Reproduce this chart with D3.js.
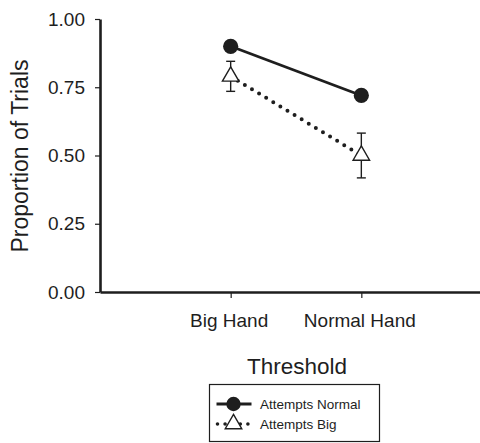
<!DOCTYPE html>
<html>
<head>
<meta charset="utf-8">
<script src="https://cdn.jsdelivr.net/npm/d3@7"></script>
<style>
  body { margin: 0; background: #fff; }
  svg { display: block; font-family: 'Liberation Sans', Arial, sans-serif; }
</style>
</head>
<body>
<div id="chart"></div>
<script>
// data
const categories = ['Big Hand', 'Normal Hand']
const attemptsNormal = [0.90, 0.72]
const attemptsBig = [0.79, 0.50]
const attemptsBigErr = [0.055, 0.082]
const yTicks = [0, 0.25, 0.5, 0.75, 1]
const seriesNames = ['Attempts Normal', 'Attempts Big']

const width = 480
const height = 443
const margins = {top: 19, left: 100, bottom: 151}
const ink = '#1e1e1e'

const svg = d3.select('#chart').append('svg')
  .attr('width', width)
  .attr('height', height)

const y = d3.scaleLinear().domain([0, 1]).range([height - margins.bottom, margins.top])
const x = d3.scalePoint().domain(categories).range([margins.left, 492]).padding(1)

// y-axis
const yAxisG = svg.append('g')
  .attr('transform', 'translate(' + margins.left + ',0)')
  .call(d3.axisLeft(y).tickValues(yTicks).tickFormat(d3.format('.2f')).tickSize(5).tickSizeOuter(0).tickPadding(10))
yAxisG.select('.domain').attr('stroke', ink).attr('stroke-width', 2.6)
yAxisG.selectAll('.tick line').attr('stroke', ink).attr('stroke-width', 1.2)
yAxisG.selectAll('.tick text').attr('fill', ink).style('font-size', '19px')

// x-axis
const xAxisG = svg.append('g')
  .attr('transform', 'translate(0,' + y(0) + ')')
  .call(d3.axisBottom(x).tickSize(6).tickSizeOuter(0))
xAxisG.select('.domain').attr('stroke', ink).attr('stroke-width', 2.6)
xAxisG.selectAll('.tick line').attr('stroke', ink).attr('stroke-width', 1.2)
xAxisG.selectAll('.tick text')
  .attr('fill', ink)
  .attr('y', 35)
  .attr('dy', 0)
  .attr('dx', -2)
  .style('font-size', '19px')

// axis titles
svg.append('text')
  .attr('transform', 'translate(28,' + 156 + ') rotate(-90)')
  .attr('text-anchor', 'middle')
  .attr('fill', ink)
  .style('font-size', '23px')
  .text('Proportion of Trials')

svg.append('text')
  .attr('x', (x(categories[0]) + x(categories[1])) / 2 + 1)
  .attr('y', 374)
  .attr('text-anchor', 'middle')
  .attr('fill', ink)
  .style('font-size', '22.5px')
  .text('Threshold')

// lines
const line = d3.line().x((d, i) => x(categories[i])).y(d => y(d))

const plot = svg.append('g').classed('plot', true)

plot.append('path')
  .datum(attemptsBig)
  .attr('d', line)
  .attr('fill', 'none')
  .attr('stroke', ink)
  .attr('stroke-width', 4)
  .attr('stroke-linecap', 'round')
  .attr('stroke-dasharray', '0 8.3')

plot.append('path')
  .datum(attemptsNormal)
  .attr('d', line)
  .attr('fill', 'none')
  .attr('stroke', ink)
  .attr('stroke-width', 2.8)

// error bars
const capW = 4.5
const eb = plot.selectAll('g.err')
  .data(attemptsBig.map((v, i) => ({cat: categories[i], v: v, e: attemptsBigErr[i]})))
  .enter().append('g').classed('err', true)
  .attr('stroke', ink)
  .attr('stroke-width', 1.4)
eb.append('line')
  .attr('x1', d => x(d.cat)).attr('x2', d => x(d.cat))
  .attr('y1', d => y(d.v + d.e)).attr('y2', d => y(d.v - d.e))
eb.append('line')
  .attr('x1', d => x(d.cat) - capW).attr('x2', d => x(d.cat) + capW)
  .attr('y1', d => y(d.v + d.e)).attr('y2', d => y(d.v + d.e))
eb.append('line')
  .attr('x1', d => x(d.cat) - capW).attr('x2', d => x(d.cat) + capW)
  .attr('y1', d => y(d.v - d.e)).attr('y2', d => y(d.v - d.e))

// markers
const tri = d3.symbol().type(d3.symbolTriangle).size(118)

plot.selectAll('path.tri')
  .data(attemptsBig)
  .enter().append('path')
  .classed('tri', true)
  .attr('d', tri)
  .attr('transform', (d, i) => 'translate(' + x(categories[i]) + ',' + y(d) + ')')
  .attr('fill', '#fff')
  .attr('stroke', ink)
  .attr('stroke-width', 1.4)

plot.selectAll('circle.dot')
  .data(attemptsNormal)
  .enter().append('circle')
  .classed('dot', true)
  .attr('cx', (d, i) => x(categories[i]))
  .attr('cy', d => y(d))
  .attr('r', 7.6)
  .attr('fill', ink)

// legend
const legend = svg.append('g').classed('legend', true)
legend.append('rect')
  .attr('x', 209.5).attr('y', 384.5)
  .attr('width', 170).attr('height', 57)
  .attr('fill', '#fff')
  .attr('stroke', ink)
  .attr('stroke-width', 1.2)

const lx0 = 216.5
const lx1 = 251.5
const lcx = 233.5

legend.append('line')
  .attr('x1', lx0).attr('x2', lx1)
  .attr('y1', 404).attr('y2', 404)
  .attr('stroke', ink).attr('stroke-width', 2.8)
legend.append('circle')
  .attr('cx', lcx).attr('cy', 404).attr('r', 7.2)
  .attr('fill', ink)

legend.append('line')
  .attr('x1', lx0 + 1).attr('x2', lx1)
  .attr('y1', 424).attr('y2', 424)
  .attr('stroke', ink).attr('stroke-width', 3.6)
  .attr('stroke-linecap', 'round')
  .attr('stroke-dasharray', '0 7.6')
legend.append('path')
  .attr('d', tri)
  .attr('transform', 'translate(' + lcx + ',' + 424 + ')')
  .attr('fill', '#fff')
  .attr('stroke', ink)
  .attr('stroke-width', 1.4)

legend.selectAll('text')
  .data(seriesNames)
  .enter().append('text')
  .attr('x', 260)
  .attr('y', (d, i) => 409 + i * 20)
  .attr('fill', ink)
  .style('font-size', '13.5px')
  .text(d => d)
</script>
</body>
</html>
